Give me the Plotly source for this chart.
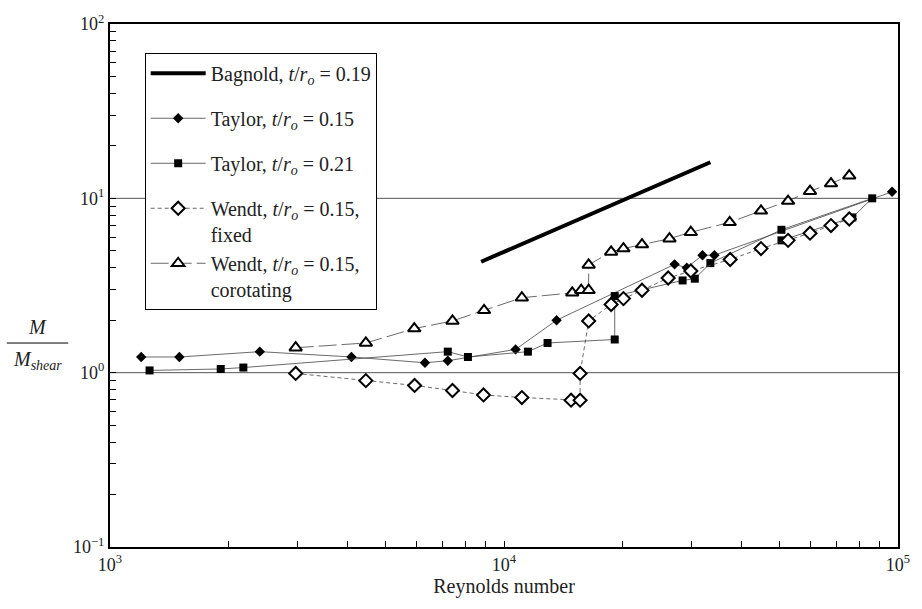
import plotly.graph_objects as go

# ---- data ----
bagnold_re = [8750, 33400]
bagnold_m = [4.33, 16.1]

taylor15_re = [1200, 1500, 2400, 4100, 6300, 7200, 10700, 13600, 27100, 29100, 31900, 34200, 96600]
taylor15_m = [1.23, 1.23, 1.32, 1.23, 1.14, 1.17, 1.36, 2.0, 4.18, 4.0, 4.72, 4.72, 10.9]

taylor21_re = [1260, 1910, 2180, 7200, 8100, 11500, 12900, 19100, 19100, 28400, 30500, 33400, 50600, 86000, 76600, 50600]
taylor21_m = [1.03, 1.05, 1.07, 1.32, 1.23, 1.32, 1.48, 1.55, 2.75, 3.38, 3.46, 4.25, 6.60, 10.0, 7.77, 5.74]

wendt_fixed_re = [2960, 4460, 5930, 7400, 8870, 11100, 14800, 15600, 15600, 16400, 18700, 20100,
                  22400, 26100, 29800, 37500, 44900, 52600, 59800, 67600, 75200]
wendt_fixed_m = [0.99, 0.90, 0.845, 0.79, 0.745, 0.72, 0.695, 0.695, 0.99, 1.98, 2.46, 2.66,
                 2.97, 3.49, 3.83, 4.46, 5.15, 5.74, 6.31, 6.98, 7.61]

wendt_corot_re = [2960, 4460, 5920, 7400, 8900, 11100, 14900, 15700, 16400, 16400, 18700, 20100,
                  22400, 26300, 29800, 37400, 44900, 52600, 59800, 67600, 75200]
wendt_corot_m = [1.39, 1.48, 1.79, 1.98, 2.28, 2.69, 2.87, 2.97, 2.97, 4.15, 4.93, 5.15,
                 5.43, 5.87, 6.39, 7.28, 8.48, 9.65, 10.99, 12.16, 13.49]

x_decades = [3, 4, 5]
y_decades = [-1, 0, 1, 2]

FONT = "Liberation Serif, Times New Roman, serif"
LINE_C = "#444444"
TEXT_C = "#222222"

def major_ticks(decades):
    vals = [10 ** d for d in decades]
    texts = ["10<sup>%s</sup>" % (str(d).replace("-", "\u2212")) for d in decades]
    return vals, texts

def minor_ticks(decades):
    return [k * 10 ** d for d in decades[:-1] for k in range(2, 10)]

xv, xt = major_ticks(x_decades)
yv, yt = major_ticks(y_decades)
xm = minor_ticks(x_decades)
ym = minor_ticks(y_decades)

tro = "<i>t</i>/<i>r<sub>o</sub></i>"

fig = go.Figure()
fig.add_trace(go.Scatter(
    x=bagnold_re, y=bagnold_m, mode="lines", name="Bagnold, %s = 0.19" % tro,
    line=dict(color="black", width=4), legendgroup="a"))
fig.add_trace(go.Scatter(
    x=taylor15_re, y=taylor15_m, mode="lines+markers", name="Taylor, %s = 0.15" % tro,
    line=dict(color=LINE_C, width=0.8),
    marker=dict(symbol="diamond", size=8, color="black"), legendgroup="b"))
fig.add_trace(go.Scatter(
    x=taylor21_re, y=taylor21_m, mode="lines+markers", name="Taylor, %s = 0.21" % tro,
    line=dict(color=LINE_C, width=0.8),
    marker=dict(symbol="square", size=8, color="black"), legendgroup="c"))
fig.add_trace(go.Scatter(
    x=wendt_fixed_re, y=wendt_fixed_m, mode="lines+markers",
    name="Wendt, %s = 0.15,<br>fixed" % tro,
    line=dict(color=LINE_C, width=0.8, dash="4px,3px"),
    marker=dict(symbol="diamond", size=10, color="white", line=dict(color="black", width=2)),
    legendgroup="d"))
fig.add_trace(go.Scatter(
    x=wendt_corot_re, y=wendt_corot_m, mode="lines+markers",
    name="Wendt, %s = 0.15,<br>corotating" % tro,
    line=dict(color=LINE_C, width=0.8, dash="18px,5px"),
    marker=dict(symbol="triangle-up", size=11, color="white", line=dict(color="black", width=2)),
    legendgroup="d"))

for yy in [1, 10]:
    fig.add_shape(type="line", xref="paper", yref="y", x0=0, x1=1, y0=yy, y1=yy,
                  line=dict(color="#555555", width=1), layer="below")

axis_common = dict(
    type="log", ticks="inside", ticklen=6, tickwidth=1, tickcolor="black",
    showline=True, linewidth=2, linecolor="black", mirror=True,
    showgrid=False, zeroline=False, ticklabeloverflow="allow",
    tickfont=dict(family=FONT, size=18, color=TEXT_C),
)

fig.update_xaxes(range=[3, 5], tickmode="array", tickvals=xv, ticktext=xt,
                 minor=dict(tickmode="array", tickvals=xm, ticks="inside", ticklen=6,
                            tickwidth=1, tickcolor="black", showgrid=False),
                 title=dict(text="Reynolds number", font=dict(family=FONT, size=20, color=TEXT_C), standoff=4),
                 **axis_common)
fig.update_yaxes(range=[-1, 2], tickmode="array", tickvals=yv, ticktext=yt,
                 minor=dict(tickmode="array", tickvals=ym, ticks="inside", ticklen=6,
                            tickwidth=1, tickcolor="black", showgrid=False),
                 **axis_common)

# y-axis title as a fraction
fig.add_annotation(xref="paper", yref="paper", x=-0.092, y=0.395, text="<i>M</i>",
                   showarrow=False, font=dict(family=FONT, size=20, color=TEXT_C),
                   xanchor="center", yanchor="bottom")
fig.add_annotation(xref="paper", yref="paper", x=-0.092, y=0.385, text="<i>M<sub>shear</sub></i>",
                   showarrow=False, font=dict(family=FONT, size=20, color=TEXT_C),
                   xanchor="center", yanchor="top")
fig.add_shape(type="line", xref="paper", yref="paper", x0=-0.131, x1=-0.053, y0=0.39, y1=0.39,
              line=dict(color="black", width=1))

fig.update_layout(
    width=922, height=609,
    margin=dict(l=110, r=16, t=16, b=62),
    paper_bgcolor="white", plot_bgcolor="white",
    font=dict(family=FONT, size=18, color=TEXT_C),
    showlegend=True,
    legend=dict(x=0.044, y=0.945, xanchor="left", yanchor="top",
                bordercolor="black", borderwidth=1, bgcolor="white",
                font=dict(family=FONT, size=20, color=TEXT_C),
                itemwidth=55, tracegroupgap=16, valign="top"),
)

fig.write_html("out.html", config={"displayModeBar": False},
               post_script="document.body.style.margin='0';document.body.style.overflow='hidden';")
